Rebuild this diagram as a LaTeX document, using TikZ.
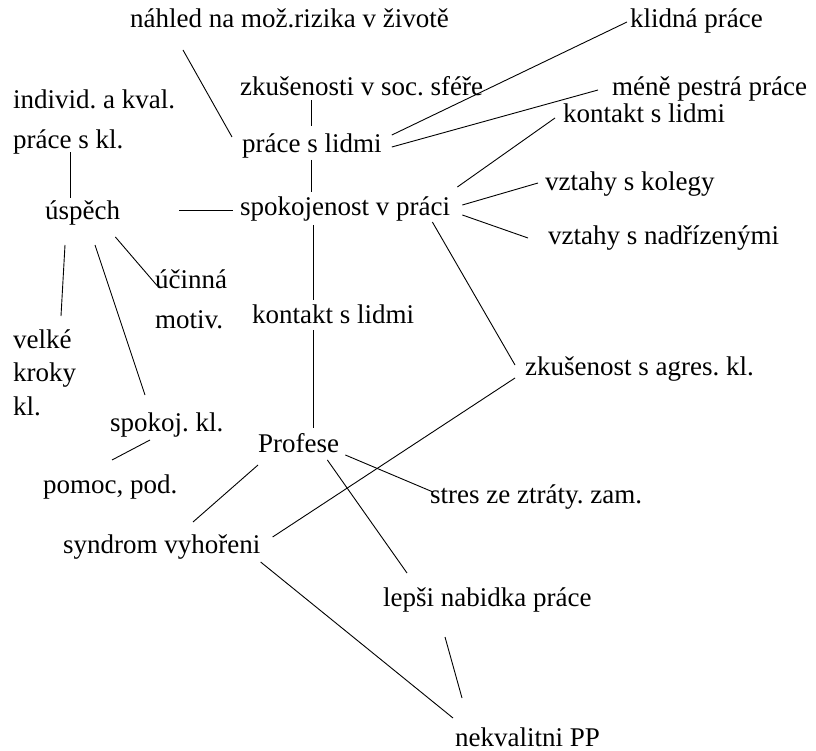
\documentclass[tikz,border=0pt]{standalone}
\usepackage{fontspec}
\setmainfont{Liberation Serif}
\newfontfamily\mapfont{Liberation Serif}
\usepackage{tikz}
\frenchspacing

\begin{document}
\begin{tikzpicture}[x=1pt, y=-1pt,
        txt/.style={inner sep=0pt, anchor=base west, text height=19pt, text depth=6pt, font=\mapfont\fontsize{27}{40}\selectfont},
        multi/.style={inner sep=0pt, anchor=north west, align=left, font=\mapfont\fontsize{27}{40}\selectfont},
        link/.style={line width=0.9pt}]
        \fill [white] (0, 0) rectangle (816, 751);
        \useasboundingbox (0, 0) rectangle (816, 751);
        % Nodes
        \node [txt] (nahled) at (130, 28) {náhled na mož.rizika v životě};
        \node [txt] (zkus) at (240, 96) {zkušenosti v soc. sféře};
        \node [multi] (indiv) at (13, 89.5) {individ. a kval.\\práce s kl.};
        \node [txt] (prace) at (242, 153) {práce s lidmi};
        \node [txt] (klidna) at (630, 28) {klidná práce};
        \node [txt] (mene) at (612, 96) {méně pestrá práce};
        \node [txt] (kontR) at (563, 123) {kontakt s lidmi};
        \node [txt] (uspech) at (45, 220) {úspěch};
        \node [txt] (spokoj) at (240, 216) {spokojenost v práci};
        \node [txt] (kolegy) at (545, 191) {vztahy s kolegy};
        \node [txt] (nadriz) at (548, 245) {vztahy s nadřízenými};
        \node [multi] (motiv) at (155, 269.5) {účinná\\motiv.};
        \node [txt] (kontM) at (252, 323) {kontakt s lidmi};
        \node [multi, font=\mapfont\fontsize{27}{33.5}\selectfont] (kroky) at (13, 329.5) {velké\\kroky\\kl.};
        \node [txt] (agres) at (525, 375) {zkušenost s agres. kl.};
        \node [txt] (spokkl) at (110, 431) {spokoj. kl.};
        \node [txt] (profese) at (258, 452) {Profese};
        \node [txt] (pomoc) at (43, 493) {pomoc, pod.};
        \node [txt] (stres) at (430, 503) {stres ze ztráty. zam.};
        \node [txt] (syndrom) at (63, 553) {syndrom vyhořeni};
        \node [txt] (lepsi) at (383, 606) {lepši nabidka práce};
        \node [txt, text depth=0pt] (nekval) at (455, 746) {nekvalitni PP};
        % Lines
        \draw [link] ([shift={(53, 22)}]nahled.base west) -- ([shift={(-10, -16)}]prace.base west);
        \draw [link] ([shift={(71, 4)}]zkus.base west) -- ([shift={(69, -27)}]prace.base west);
        \draw [link] ([shift={(69, 7)}]prace.base west) -- ([shift={(71, -24)}]spokoj.base west);
        \draw [link] ([shift={(10, -18)}]prace.base east) -- ([shift={(-3, -6)}]klidna.base west);
        \draw [link] ([shift={(10, -6)}]prace.base east) -- ([shift={(-14, -6)}]mene.base west);
        \draw [link] ([shift={(57, -2)}]indiv.south west) -- ([shift={(25, -22)}]uspech.base west);
        \draw [link] ([shift={(59, -10)}]uspech.base east) -- ([shift={(-7, -6)}]spokoj.base west);
        \draw [link] ([shift={(7, -29)}]spokoj.base east) -- ([shift={(-8, -5)}]kontR.base west);
        \draw [link] ([shift={(12, -11)}]spokoj.base east) -- ([shift={(-7, -8)}]kolegy.base west);
        \draw [link] ([shift={(12, -1)}]spokoj.base east) -- ([shift={(-20, -7)}]nadriz.base west);
        \draw [link] ([shift={(-18, 6)}]spokoj.base east) -- ([shift={(-10, -10)}]agres.base west);
        \draw [link] ([shift={(73, 9)}]spokoj.base west) -- ([shift={(61, -23)}]kontM.base west);
        \draw [link] ([shift={(61, 7)}]kontM.base west) -- ([shift={(55, -24)}]profese.base west);
        \draw [link] ([shift={(20, 25)}]uspech.base west) -- ([shift={(48, -13.5)}]kroky.north west);
        \draw [link] ([shift={(50, 25)}]uspech.base west) -- ([shift={(35, -36)}]spokkl.base west);
        \draw [link] ([shift={(-5, 17)}]uspech.base east) -- ([shift={(2, 16)}]motiv.north west);
        \draw [link] ([shift={(40, 9)}]spokkl.base west) -- ([shift={(69, -33)}]pomoc.base west);
        \draw [link] ([shift={(0, 13)}]profese.base west) -- ([shift={(130, -31)}]syndrom.base west);
        \draw [link] ([shift={(-10, 3)}]agres.base west) -- ([shift={(12, -16)}]syndrom.base east);
        \draw [link] ([shift={(6, 3)}]profese.base east) -- ([shift={(3, -11)}]stres.base west);
        \draw [link] ([shift={(-12, 8)}]profese.base east) -- ([shift={(24, -33)}]lepsi.base west);
        \draw [link] ([shift={(0, 9)}]syndrom.base east) -- ([shift={(-2, -28)}]nekval.base west);
        \draw [link] ([shift={(62, 31)}]lepsi.base west) -- ([shift={(7, -48)}]nekval.base west);
    \end{tikzpicture}
\end{document}
